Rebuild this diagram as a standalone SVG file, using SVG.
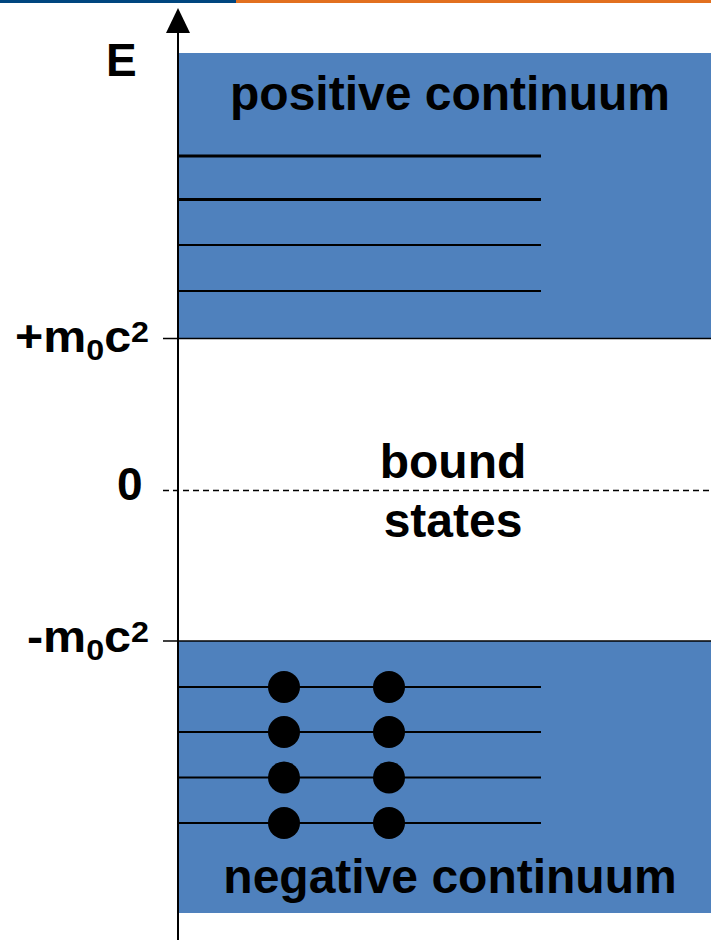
<svg xmlns="http://www.w3.org/2000/svg" width="711" height="940" viewBox="0 0 711 940">
  <style>
    .band { fill: #4F81BD; }
    .level { stroke: #000; stroke-width: 2; }
    .level-thick { stroke: #000; stroke-width: 3; }
    .edge { stroke: #000; stroke-width: 1.5; }
    .lbl { font-family: "Liberation Sans", Arial, sans-serif; font-weight: bold; fill: #000; }
    .big { font-size: 48px; }
    .axislbl { font-size: 45px; }
    .small { font-size: 30px; }
    .electron { fill: #000; }
  </style>

  <!-- header strip -->
  <g id="header">
    <rect x="0" y="0" width="236" height="3" fill="#00467F"/>
    <rect x="236" y="0" width="475" height="3" fill="#E2701F"/>
  </g>

  <!-- positive energy continuum -->
  <g id="positive-continuum">
    <rect class="band" x="179" y="53" width="532" height="286"/>
    <line class="level-thick" x1="178" y1="156" x2="541" y2="156"/>
    <line class="level-thick" x1="178" y1="199.5" x2="541" y2="199.5"/>
    <line class="level" x1="178" y1="245" x2="541" y2="245"/>
    <line class="level" x1="178" y1="291" x2="541" y2="291"/>
    <text class="lbl big" x="450" y="110" text-anchor="middle">positive continuum</text>
  </g>

  <!-- negative energy continuum (filled Dirac sea) -->
  <g id="negative-continuum">
    <rect class="band" x="179" y="641" width="532" height="272"/>
    <line class="level" x1="178" y1="687" x2="541" y2="687"/>
    <line class="level" x1="178" y1="732" x2="541" y2="732"/>
    <line class="level" x1="178" y1="777.5" x2="541" y2="777.5"/>
    <line class="level" x1="178" y1="823" x2="541" y2="823"/>
    <g id="electrons">
      <circle class="electron" cx="284" cy="687" r="16"/>
      <circle class="electron" cx="389" cy="687" r="16"/>
      <circle class="electron" cx="284" cy="732" r="16"/>
      <circle class="electron" cx="389" cy="732" r="16"/>
      <circle class="electron" cx="284" cy="777.5" r="16"/>
      <circle class="electron" cx="389" cy="777.5" r="16"/>
      <circle class="electron" cx="284" cy="823" r="16"/>
      <circle class="electron" cx="389" cy="823" r="16"/>
    </g>
    <text class="lbl big" x="450" y="893" text-anchor="middle">negative continuum</text>
  </g>

  <!-- bound states gap -->
  <g id="bound-states">
    <text class="lbl big" x="453" y="478" text-anchor="middle">bound</text>
    <text class="lbl big" x="453" y="537" text-anchor="middle">states</text>
  </g>

  <!-- energy axis, band edges and zero line -->
  <g id="connectors">
    <line class="edge" x1="163" y1="338.5" x2="711" y2="338.5"/>
    <line class="edge" x1="163" y1="641" x2="711" y2="641"/>
    <line x1="163" y1="490.5" x2="711" y2="490.5" stroke="#000" stroke-width="1.5" stroke-dasharray="6 4"/>
    <line x1="178" y1="30" x2="178" y2="940" stroke="#000" stroke-width="2"/>
    <polygon points="178,8 166,33 190,33" fill="#000"/>
  </g>

  <!-- axis labels -->
  <g id="axis-labels">
    <text class="lbl" font-size="46" x="106" y="76">E</text>
    <text class="lbl axislbl" x="15" y="352" textLength="134" lengthAdjust="spacingAndGlyphs">+m<tspan class="small" dy="8">0</tspan><tspan dy="-8">c</tspan><tspan class="small" dy="-10">2</tspan></text>
    <text class="lbl" font-size="46" x="117" y="500">0</text>
    <text class="lbl axislbl" x="27" y="652" textLength="122" lengthAdjust="spacingAndGlyphs">-m<tspan class="small" dy="8">0</tspan><tspan dy="-8">c</tspan><tspan class="small" dy="-10">2</tspan></text>
  </g>
</svg>
